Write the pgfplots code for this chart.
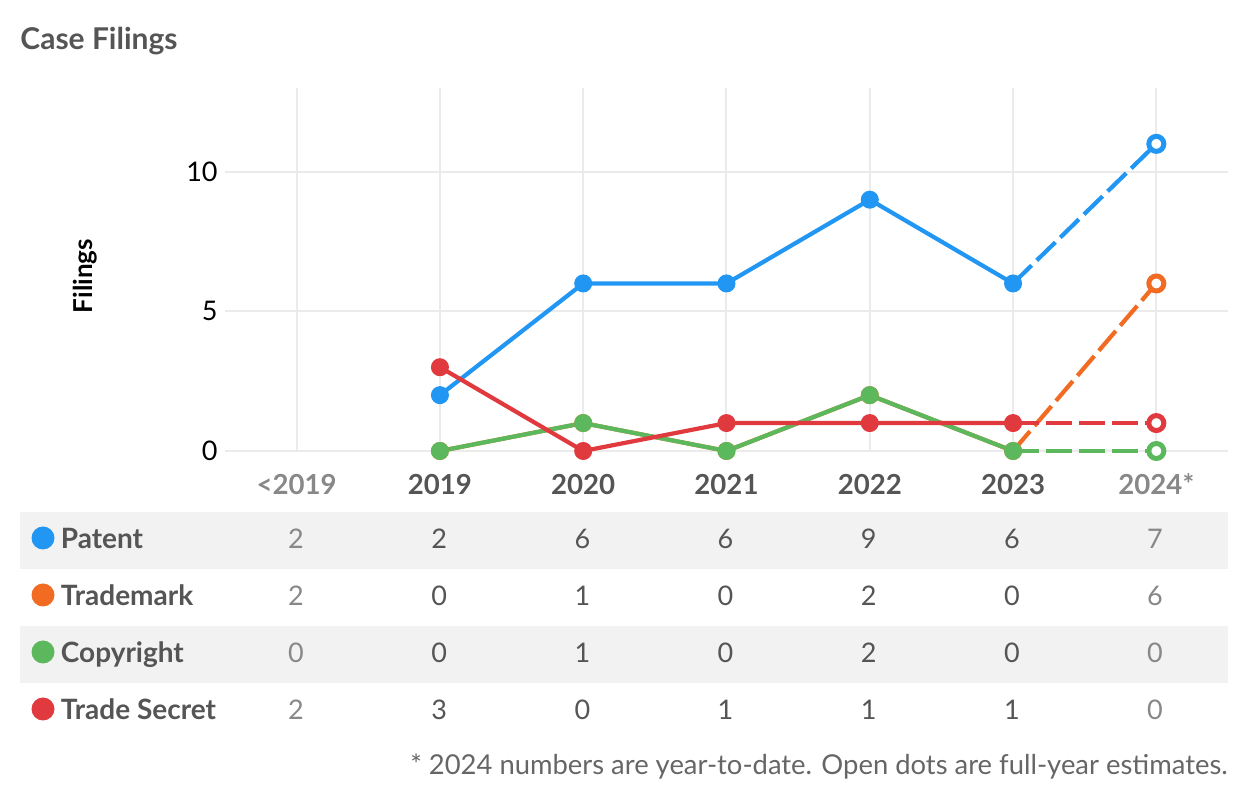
\documentclass[border=0pt]{standalone}
\usepackage{fontspec}
\setmainfont{Lato}
\usepackage{pgfplots}
\pgfplotsset{compat=1.18}
\definecolor{cBlue}{HTML}{2196F3}
\definecolor{cOrange}{HTML}{F26B23}
\definecolor{cGreen}{HTML}{5CB85C}
\definecolor{cRed}{HTML}{E0393E}
\definecolor{gridgray}{HTML}{EBEBEB}
\definecolor{rowgray}{HTML}{F2F2F2}
\definecolor{titlegray}{HTML}{555555}
\definecolor{numdark}{HTML}{555555}
\definecolor{numlight}{HTML}{888888}
\definecolor{notegray}{HTML}{666666}
\begin{document}
\begin{tikzpicture}
\begin{scope}[x=0.5pt,y=-0.5pt]
\path (0,0) rectangle (1237,795);
\fill[rowgray] (20,512) rectangle (1228,569);
\fill[rowgray] (20,626) rectangle (1228,683);
\node[anchor=base west, inner sep=0pt, text=titlegray, font=\fontsize{15}{18}\selectfont\bfseries] at (20,50) {Case Filings};
\node[rotate=90, anchor=base, inner sep=0pt, text=black, font=\fontsize{13}{16}\selectfont\bfseries] at (92,276) {Filings};
\foreach \yb/\name/\col/\vals in {549/Patent/cBlue/{2,2,6,6,9,6,7},606/Trademark/cOrange/{2,0,1,0,2,0,6},663/Copyright/cGreen/{0,0,1,0,2,0,0},720/Trade Secret/cRed/{2,3,0,1,1,1,0}}{
  \fill[\col] (43,\yb-11) circle [radius=11.5];
  \node[anchor=base west, inner sep=0pt, text=titlegray, font=\fontsize{14}{17}\selectfont\bfseries] at (60.5,\yb) {\name};
  \foreach \v [count=\i from 0] in \vals {
    \ifnum\i=0 \def\nc{numlight}\else\ifnum\i=6 \def\nc{numlight}\else\def\nc{numdark}\fi\fi
    \node[anchor=base, inner sep=0pt, text=\nc, font=\fontsize{13.5}{16}\selectfont] at ({296+143.17*\i},\yb) {\v};
  }
}
\node[anchor=base east, inner sep=0pt, text=notegray, font=\fontsize{13.7}{16}\selectfont] at (1228,775) {* 2024 numbers are year-to-date. Open dots are full-year estimates.};
\end{scope}
\begin{axis}[
  at={(112.5pt,-225.5pt)}, anchor=south west,
  width=501.5pt, height=181.5pt, scale only axis,
  xmin=-0.5, xmax=6.5, ymin=0, ymax=13,
  axis line style={draw=none}, tick style={draw=none},
  xtick={0,1,2,3,4,5,6}, ytick={0,5,10},
  xticklabels={\textcolor{numlight}{<2019},2019,2020,2021,2022,2023,\textcolor{numlight}{2024*}},
  grid=major, major grid style={draw=gridgray, line width=1pt},
  clip=false,
  /pgf/number format/assume math mode=true,
  yticklabel style={font=\fontsize{13.5}{16}\selectfont, text=black, inner sep=0pt, anchor=east, xshift=-3.5pt},
  xticklabel style={font=\fontsize{13.8}{16}\selectfont\bfseries, text=numdark, inner sep=0pt, anchor=base, yshift=-22pt},
  every axis plot/.append style={line width=2.1pt, line join=round},
]
% Patent
\addplot[cBlue, mark=*, mark size=4pt, mark options={solid, line width=1pt}] coordinates {(1,2)(2,6)(3,6)(4,9)(5,6)};
\addplot[cBlue, dash pattern=on 13pt off 3.5pt] coordinates {(5,6)(6,11)};
\addplot[cBlue, only marks, mark=*, mark size=3.75pt, mark options={solid, fill=white, line width=2.5pt}] coordinates {(6,11)};
% Trademark
\addplot[cOrange, mark=*, mark size=4pt, mark options={solid, line width=1pt}] coordinates {(1,0)(2,1)(3,0)(4,2)(5,0)};
\addplot[cOrange, dash pattern=on 13pt off 3.5pt] coordinates {(5,0)(6,6)};
\addplot[cOrange, only marks, mark=*, mark size=3.75pt, mark options={solid, fill=white, line width=2.5pt}] coordinates {(6,6)};
% Copyright
\addplot[cGreen, mark=*, mark size=4pt, mark options={solid, line width=1pt}] coordinates {(1,0)(2,1)(3,0)(4,2)(5,0)};
\addplot[cGreen, dash pattern=on 13pt off 3.5pt] coordinates {(5,0)(6,0)};
\addplot[cGreen, only marks, mark=*, mark size=3.75pt, mark options={solid, fill=white, line width=2.5pt}] coordinates {(6,0)};
% Trade Secret
\addplot[cRed, mark=*, mark size=4pt, mark options={solid, line width=1pt}] coordinates {(1,3)(2,0)(3,1)(4,1)(5,1)};
\addplot[cRed, dash pattern=on 13pt off 3.5pt] coordinates {(5,1)(6,1)};
\addplot[cRed, only marks, mark=*, mark size=3.75pt, mark options={solid, fill=white, line width=2.5pt}] coordinates {(6,1)};
\end{axis}
\end{tikzpicture}
\end{document}
